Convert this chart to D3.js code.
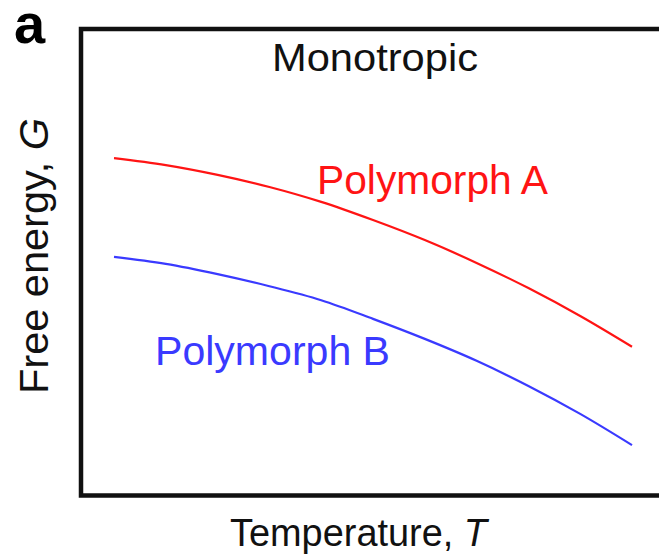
<!DOCTYPE html>
<html><head><meta charset="utf-8">
<script src="https://cdn.jsdelivr.net/npm/d3@7"></script>
<style>html,body{margin:0;padding:0;background:#fff;}svg{display:block;}</style>
</head><body>
<script>
// Data (arbitrary units)
const temperature = [0,1,2,3,4,5,6,7,8,9,10];
const polymorphA = [72.3,70.8,68.7,66.1,62.9,59.0,54.7,49.8,44.4,38.4,31.8];
const polymorphB = [51.1,49.6,47.4,44.8,41.8,37.8,33.5,28.8,23.4,17.4,10.7];
const seriesNames = ["Polymorph A","Polymorph B"];
const titleText = "Monotropic";
const xLabel = "Temperature, ";
const xSym = "T";
const yLabel = "Free energy, ";
const ySym = "G";
const panelLabel = "a";

const W = 659, H = 554;
const svg = d3.select("body").append("svg").attr("width", W).attr("height", H);
const font = "'Liberation Sans', Arial, Helvetica, sans-serif";

const x = d3.scaleLinear().domain([0,10]).range([114,632]);
const y = d3.scaleLinear().domain([0,100]).range([495,29]);

// frame
const frame = {l:81, t:29, b:495.5, r:662};
svg.append("path")
  .attr("d", `M${frame.r},${frame.t}H${frame.l}V${frame.b}H${frame.r}`)
  .attr("fill","none").attr("stroke","#111").attr("stroke-width",4.5);

const line = d3.line().x((d,i)=>x(temperature[i])).y(d=>y(d)).curve(d3.curveCatmullRom);
const colors = ["#ff1414","#3a3aff"];
[polymorphA, polymorphB].forEach((s,k)=>{
  svg.append("path").attr("d", line(s)).attr("fill","none")
    .attr("stroke", colors[k]).attr("stroke-width",2.2);
});

function txt(str, xx, yy, size, len, fill, extra){
  const t = svg.append("text").attr("x",xx).attr("y",yy)
    .attr("font-family",font).attr("font-size",size).attr("fill",fill||"#111");
  if(len) t.attr("textLength",len).attr("lengthAdjust","spacingAndGlyphs");
  t.text(str);
  return t;
}
txt(panelLabel, 14, 43, 56, null, "#000").attr("font-weight","bold");
txt(titleText, 272, 71, 38, 206);
txt(seriesNames[0], 317, 194, 40, 231, colors[0]);
txt(seriesNames[1], 155, 365, 40, 235, colors[1]);

const xl = svg.append("text").attr("x",230).attr("y",546)
  .attr("font-family",font).attr("font-size",38).attr("fill","#111")
  .attr("textLength",257).attr("lengthAdjust","spacingAndGlyphs");
xl.append("tspan").text(xLabel);
xl.append("tspan").attr("font-style","italic").text(xSym);

const yl = svg.append("text").attr("transform","translate(48,256) rotate(-90)")
  .attr("text-anchor","middle")
  .attr("font-family",font).attr("font-size",40).attr("fill","#111")
  .attr("textLength",276).attr("lengthAdjust","spacingAndGlyphs");
yl.append("tspan").text(yLabel);
yl.append("tspan").attr("font-style","italic").text(ySym);
</script>
</body></html>
